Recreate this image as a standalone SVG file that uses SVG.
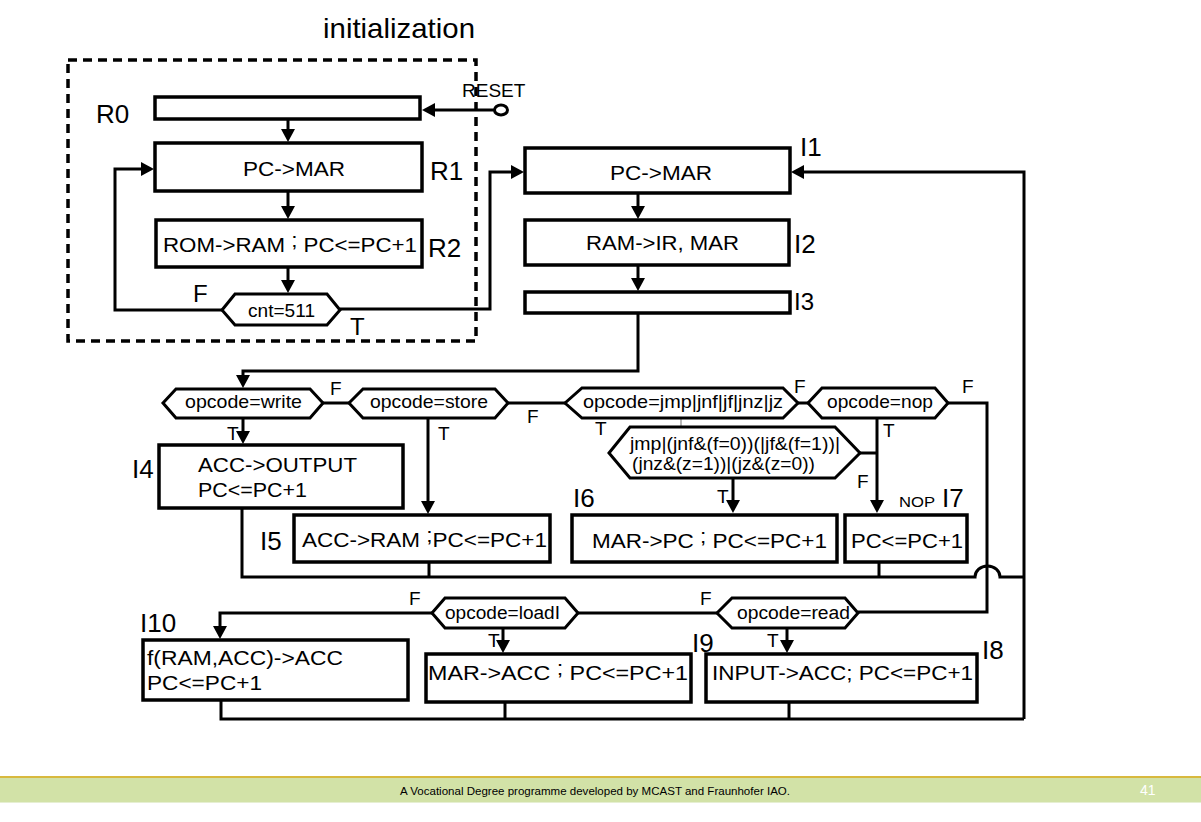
<svg xmlns="http://www.w3.org/2000/svg" width="1201" height="822" viewBox="0 0 1201 822">
<defs>
<marker id="ah" viewBox="0 0 13 14" refX="9" refY="7" markerWidth="13" markerHeight="14" markerUnits="userSpaceOnUse" orient="auto"><path d="M0,0 L13,7 L0,14 z" fill="#000"/></marker>
</defs>
<style>
.box{fill:#fff;stroke:#000;stroke-width:3.5}
.hex{fill:#fff;stroke:#000;stroke-width:3}
.ln{fill:none;stroke:#000;stroke-width:3}
.arr{fill:none;stroke:#000;stroke-width:3;marker-end:url(#ah)}
text{font-family:"Liberation Sans",Arial,sans-serif;fill:#000}
.bt{font-size:21px}
.ht{font-size:19px}
.lb{font-size:26px}
.ft{font-size:19px}
.fb{font-size:24px}
</style>
<rect x="0" y="0" width="1201" height="822" fill="#fff"/>

<g id="init-frame">
<rect x="68" y="60" width="408" height="281" fill="none" stroke="#000" stroke-width="3.5" stroke-dasharray="9 6"/>
<text x="323" y="38" font-size="28" textLength="152" lengthAdjust="spacingAndGlyphs">initialization</text>
</g>

<g id="connectors">
<ellipse cx="501" cy="110" rx="6.5" ry="5" fill="#fff" stroke="#000" stroke-width="3"/>
<path class="arr" d="M494,110 H426"/>
<path class="arr" d="M288,119 V138"/>
<path class="arr" d="M288,191 V215"/>
<path class="arr" d="M288,267 V289"/>
<path class="arr" d="M222,310 H115 V169 H150"/>
<path class="arr" d="M340,309 H490 V172 H520"/>
<path class="arr" d="M638,193 V215"/>
<path class="arr" d="M638,265 V287"/>
<path class="arr" d="M638,313 V371 H243 V384"/>
<path class="arr" d="M1024,719 V172 H795"/>
<path class="ln" d="M323,403 H349"/>
<path class="ln" d="M508,403 H565"/>
<path class="ln" d="M798,403 H808"/>
<path class="ln" d="M948,403 H987 V612 H858"/>
<path class="arr" d="M243,418 V440"/>
<path class="arr" d="M428,418 V510"/>
<path d="M681,418 V427" stroke="#888" stroke-width="1.2"/>
<path class="arr" d="M733,478 V509"/>
<path class="ln" d="M860,453 H877"/>
<path class="arr" d="M877,418 V509"/>
<path class="ln" d="M242,508 V577 H975 A12.5,11 0 0 1 1000,577 H1024"/>
<path class="ln" d="M429,562 V577"/>
<path class="ln" d="M879,562 V577"/>
<path class="ln" d="M717,613 H578"/>
<path class="arr" d="M432,613 H220 V635"/>
<path class="arr" d="M503,628 V649"/>
<path class="arr" d="M787,628 V649"/>
<path class="ln" d="M221,700 V719 H1024"/>
<path class="ln" d="M505,702 V719"/>
<path class="ln" d="M789,702 V719"/>
<text x="462" y="97" font-size="19">RESET</text>
<text class="fb" x="193" y="302">F</text>
<text class="fb" x="350" y="335">T</text>
<text class="ft" x="330" y="395">F</text>
<text class="ft" x="227" y="440">T</text>
<text class="ft" x="438" y="440">T</text>
<text class="ft" x="527" y="423">F</text>
<text class="ft" x="595" y="435">T</text>
<text class="ft" x="794" y="393">F</text>
<text class="ft" x="962" y="393">F</text>
<text class="ft" x="883" y="437">T</text>
<text class="ft" x="857" y="488">F</text>
<text class="ft" x="717" y="503">T</text>
<text class="ft" x="409" y="605">F</text>
<text class="ft" x="488" y="647">T</text>
<text class="ft" x="700" y="605">F</text>
<text class="ft" x="767" y="647">T</text>
</g>

<g id="R0">
<rect class="box" x="155" y="97" width="265" height="22"/>
<text class="lb" x="96" y="123">R0</text>
</g>
<g id="R1">
<rect class="box" x="155" y="143" width="267" height="48"/>
<text class="bt" x="243" y="176" textLength="102" lengthAdjust="spacingAndGlyphs">PC-&gt;MAR</text>
<text class="lb" x="430" y="180">R1</text>
</g>
<g id="R2">
<rect class="box" x="156" y="220" width="266" height="47"/>
<text class="bt" x="163" y="252" textLength="254" lengthAdjust="spacingAndGlyphs">ROM-&gt;RAM <tspan dy="-5">;</tspan><tspan dy="5"> PC&lt;=PC+1</tspan></text>
<text class="lb" x="428" y="257">R2</text>
</g>
<g id="cnt">
<polygon class="hex" points="222,310 235,294 327,294 340,310 327,325 235,325"/>
<text x="248" y="317" font-size="18" textLength="67" lengthAdjust="spacingAndGlyphs">cnt=511</text>
</g>

<g id="I1">
<rect class="box" x="525" y="148" width="265" height="45"/>
<text class="bt" x="610" y="180" textLength="102" lengthAdjust="spacingAndGlyphs">PC-&gt;MAR</text>
<text class="lb" x="800" y="156">I1</text>
</g>
<g id="I2">
<rect class="box" x="525" y="220" width="264" height="45"/>
<text class="bt" x="586" y="250" textLength="153" lengthAdjust="spacingAndGlyphs">RAM-&gt;IR, MAR</text>
<text class="lb" x="794" y="253">I2</text>
</g>
<g id="I3">
<rect class="box" x="525" y="292" width="265" height="21"/>
<text x="794" y="310" font-size="24">I3</text>
</g>

<g id="d-write">
<polygon class="hex" points="163,403 176,389 310,389 323,403 310,418 176,418"/>
<text class="ht" x="185" y="408" textLength="117" lengthAdjust="spacingAndGlyphs">opcode=write</text>
</g>
<g id="d-store">
<polygon class="hex" points="349,403 363,389 495,389 508,403 495,418 363,418"/>
<text class="ht" x="370" y="408" textLength="118" lengthAdjust="spacingAndGlyphs">opcode=store</text>
</g>
<g id="d-jmp">
<polygon class="hex" points="565,403 582,388 783,388 798,403 783,418 582,418"/>
<text class="ht" x="583" y="408" textLength="200" lengthAdjust="spacingAndGlyphs">opcode=jmp|jnf|jf|jnz|jz</text>
</g>
<g id="d-nop">
<polygon class="hex" points="808,403 822,388 935,388 948,403 935,418 822,418"/>
<text class="ht" x="827" y="408" textLength="106" lengthAdjust="spacingAndGlyphs">opcode=nop</text>
</g>
<g id="d-cond">
<polygon class="hex" points="609,453 630,427 835,427 860,453 835,478 630,478"/>
<text x="630" y="450" font-size="18" textLength="210" lengthAdjust="spacingAndGlyphs">jmp|(jnf&amp;(f=0))(|jf&amp;(f=1))|</text>
<text x="632" y="470" font-size="18" textLength="183" lengthAdjust="spacingAndGlyphs">(jnz&amp;(z=1))|(jz&amp;(z=0))</text>
</g>

<g id="I4">
<rect class="box" x="159" y="445" width="244" height="63"/>
<text class="bt" x="198" y="472" textLength="159" lengthAdjust="spacingAndGlyphs">ACC-&gt;OUTPUT</text>
<text class="bt" x="198" y="497" textLength="109" lengthAdjust="spacingAndGlyphs">PC&lt;=PC+1</text>
<text class="lb" x="132" y="478">I4</text>
</g>
<g id="I5">
<rect class="box" x="294" y="515" width="256" height="47"/>
<text class="bt" x="302" y="547" textLength="245" lengthAdjust="spacingAndGlyphs">ACC-&gt;RAM <tspan dy="-5">;</tspan><tspan dy="5">PC&lt;=PC+1</tspan></text>
<text class="lb" x="260" y="550">I5</text>
</g>
<g id="I6">
<rect class="box" x="572" y="515" width="265" height="47"/>
<text class="bt" x="592" y="548" textLength="235" lengthAdjust="spacingAndGlyphs">MAR-&gt;PC <tspan dy="-5">;</tspan><tspan dy="5"> PC&lt;=PC+1</tspan></text>
<text class="lb" x="573" y="507">I6</text>
</g>
<g id="I7">
<rect class="box" x="845" y="515" width="122" height="47"/>
<text class="bt" x="851" y="548" textLength="112" lengthAdjust="spacingAndGlyphs">PC&lt;=PC+1</text>
<text x="899" y="507" font-size="15" textLength="36" lengthAdjust="spacingAndGlyphs">NOP</text>
<text class="lb" x="942" y="507">I7</text>
</g>

<g id="d-loadI">
<polygon class="hex" points="432,613 445,598 565,598 578,613 565,628 445,628"/>
<text x="445" y="619" font-size="18" textLength="115" lengthAdjust="spacingAndGlyphs">opcode=loadI</text>
</g>
<g id="d-read">
<polygon class="hex" points="717,613 732,598 845,598 858,613 845,628 732,628"/>
<text x="737" y="619" font-size="18" textLength="113" lengthAdjust="spacingAndGlyphs">opcode=read</text>
</g>

<g id="I10">
<rect class="box" x="143" y="640" width="265" height="60"/>
<text class="bt" x="147" y="665" textLength="196" lengthAdjust="spacingAndGlyphs">f(RAM,ACC)-&gt;ACC</text>
<text class="bt" x="147" y="690" textLength="115" lengthAdjust="spacingAndGlyphs">PC&lt;=PC+1</text>
<text class="lb" x="140" y="632">I10</text>
</g>
<g id="I9">
<rect class="box" x="426" y="654" width="265" height="48"/>
<text class="bt" x="428" y="680" textLength="260" lengthAdjust="spacingAndGlyphs">MAR-&gt;ACC <tspan dy="-5">;</tspan><tspan dy="5"> PC&lt;=PC+1</tspan></text>
<text class="lb" x="692" y="652">I9</text>
</g>
<g id="I8">
<rect class="box" x="706" y="654" width="271" height="48"/>
<text class="bt" x="712" y="680" textLength="261" lengthAdjust="spacingAndGlyphs">INPUT-&gt;ACC; PC&lt;=PC+1</text>
<text class="lb" x="982" y="659">I8</text>
</g>

<g id="footer">
<rect x="0" y="776" width="1201" height="2" fill="#d8b93e"/>
<rect x="0" y="778" width="1201" height="24" fill="#d2e2a7"/>
<rect x="0" y="802" width="1201" height="1" fill="#e6efd2"/>
<text x="400" y="795" font-size="11" fill="#222" textLength="390" lengthAdjust="spacingAndGlyphs">A Vocational Degree programme developed by MCAST and Fraunhofer IAO.</text>
<text x="1140" y="795" font-size="14" style="fill:#fff">41</text>
</g>
</svg>
